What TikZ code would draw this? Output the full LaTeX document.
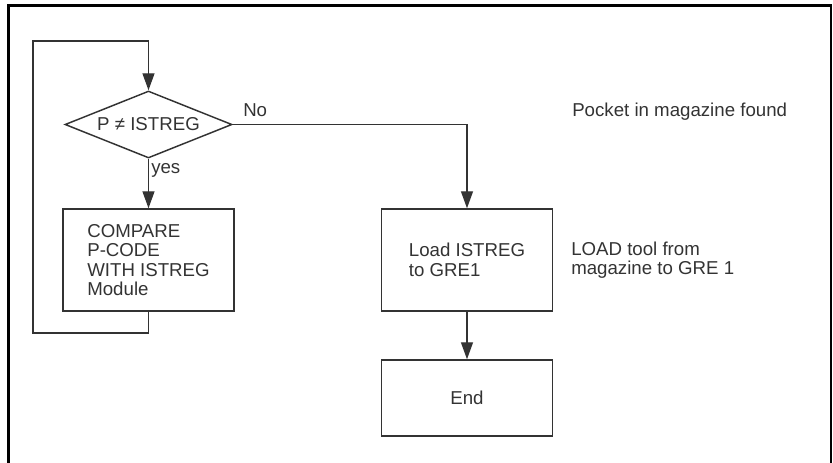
\documentclass[tikz,border=0pt]{standalone}
\usepackage{fontspec}
\setmainfont{Liberation Sans}
\usepackage{xcolor}
\usetikzlibrary{arrows.meta,shapes.geometric}
\definecolor{ink}{HTML}{333333}
\tikzset{
  stepbox/.style={draw=ink, line width=1.1pt, minimum width=128.25pt, minimum height=76.5pt, align=left, text=ink, font=\fontsize{14}{14.6}\selectfont},
  decision/.style={draw=ink, line width=1.1pt, shape=diamond, aspect=2.5, inner sep=0pt, minimum width=125.25pt, minimum height=50.25pt, text=ink, font=\fontsize{14}{14.6}\selectfont},
  note/.style={align=left, text=ink, inner sep=0pt, font=\fontsize{14}{14.6}\selectfont},
  flow/.style={draw=ink, line width=1pt, -{Triangle[length=12.75pt, width=9pt]}},
  frame/.style={black, line width=1.7pt}
}

\begin{document}
\begin{tikzpicture}[x=0.75pt,y=-0.75pt]
  \useasboundingbox (0,0) rectangle (833,462);
  \draw[frame] (8.5,470) -- (8.5,5.5) -- (831,5.5) -- (831,470);

  \node[decision] (istreg) at (148.5,124.5) {P ≠ ISTREG};
  \node[stepbox] (compare) at (148.5,260) {COMPARE\\P-CODE\\WITH ISTREG\\Module};
  \node[stepbox] (load) at (467,260) {Load ISTREG\\to GRE1};
  \node[stepbox, minimum height=57pt] (end) at (467,398) {End};

  \node[note, anchor=base west] (no) at (243,116) {No};
  \node[note, anchor=base west] (yes) at (151,173) {yes};
  \node[note, anchor=base west] (pocket) at (572,116) {Pocket in magazine found};
  \node[note, anchor=west] (loadnote) at (571,260) {LOAD tool from\\magazine to GRE 1};

  \coordinate (loopbl) at (33,333);
  \coordinate (looptl) at (33,41);

  \draw[flow] (compare.south) |- (loopbl) -- (looptl) -| (istreg.north);
  \draw[flow] (istreg.south) -- (compare.north);
  \draw[flow] (istreg.east) -| (load.north);
  \draw[flow] (load.south) -- (end.north);
\end{tikzpicture}
\end{document}
